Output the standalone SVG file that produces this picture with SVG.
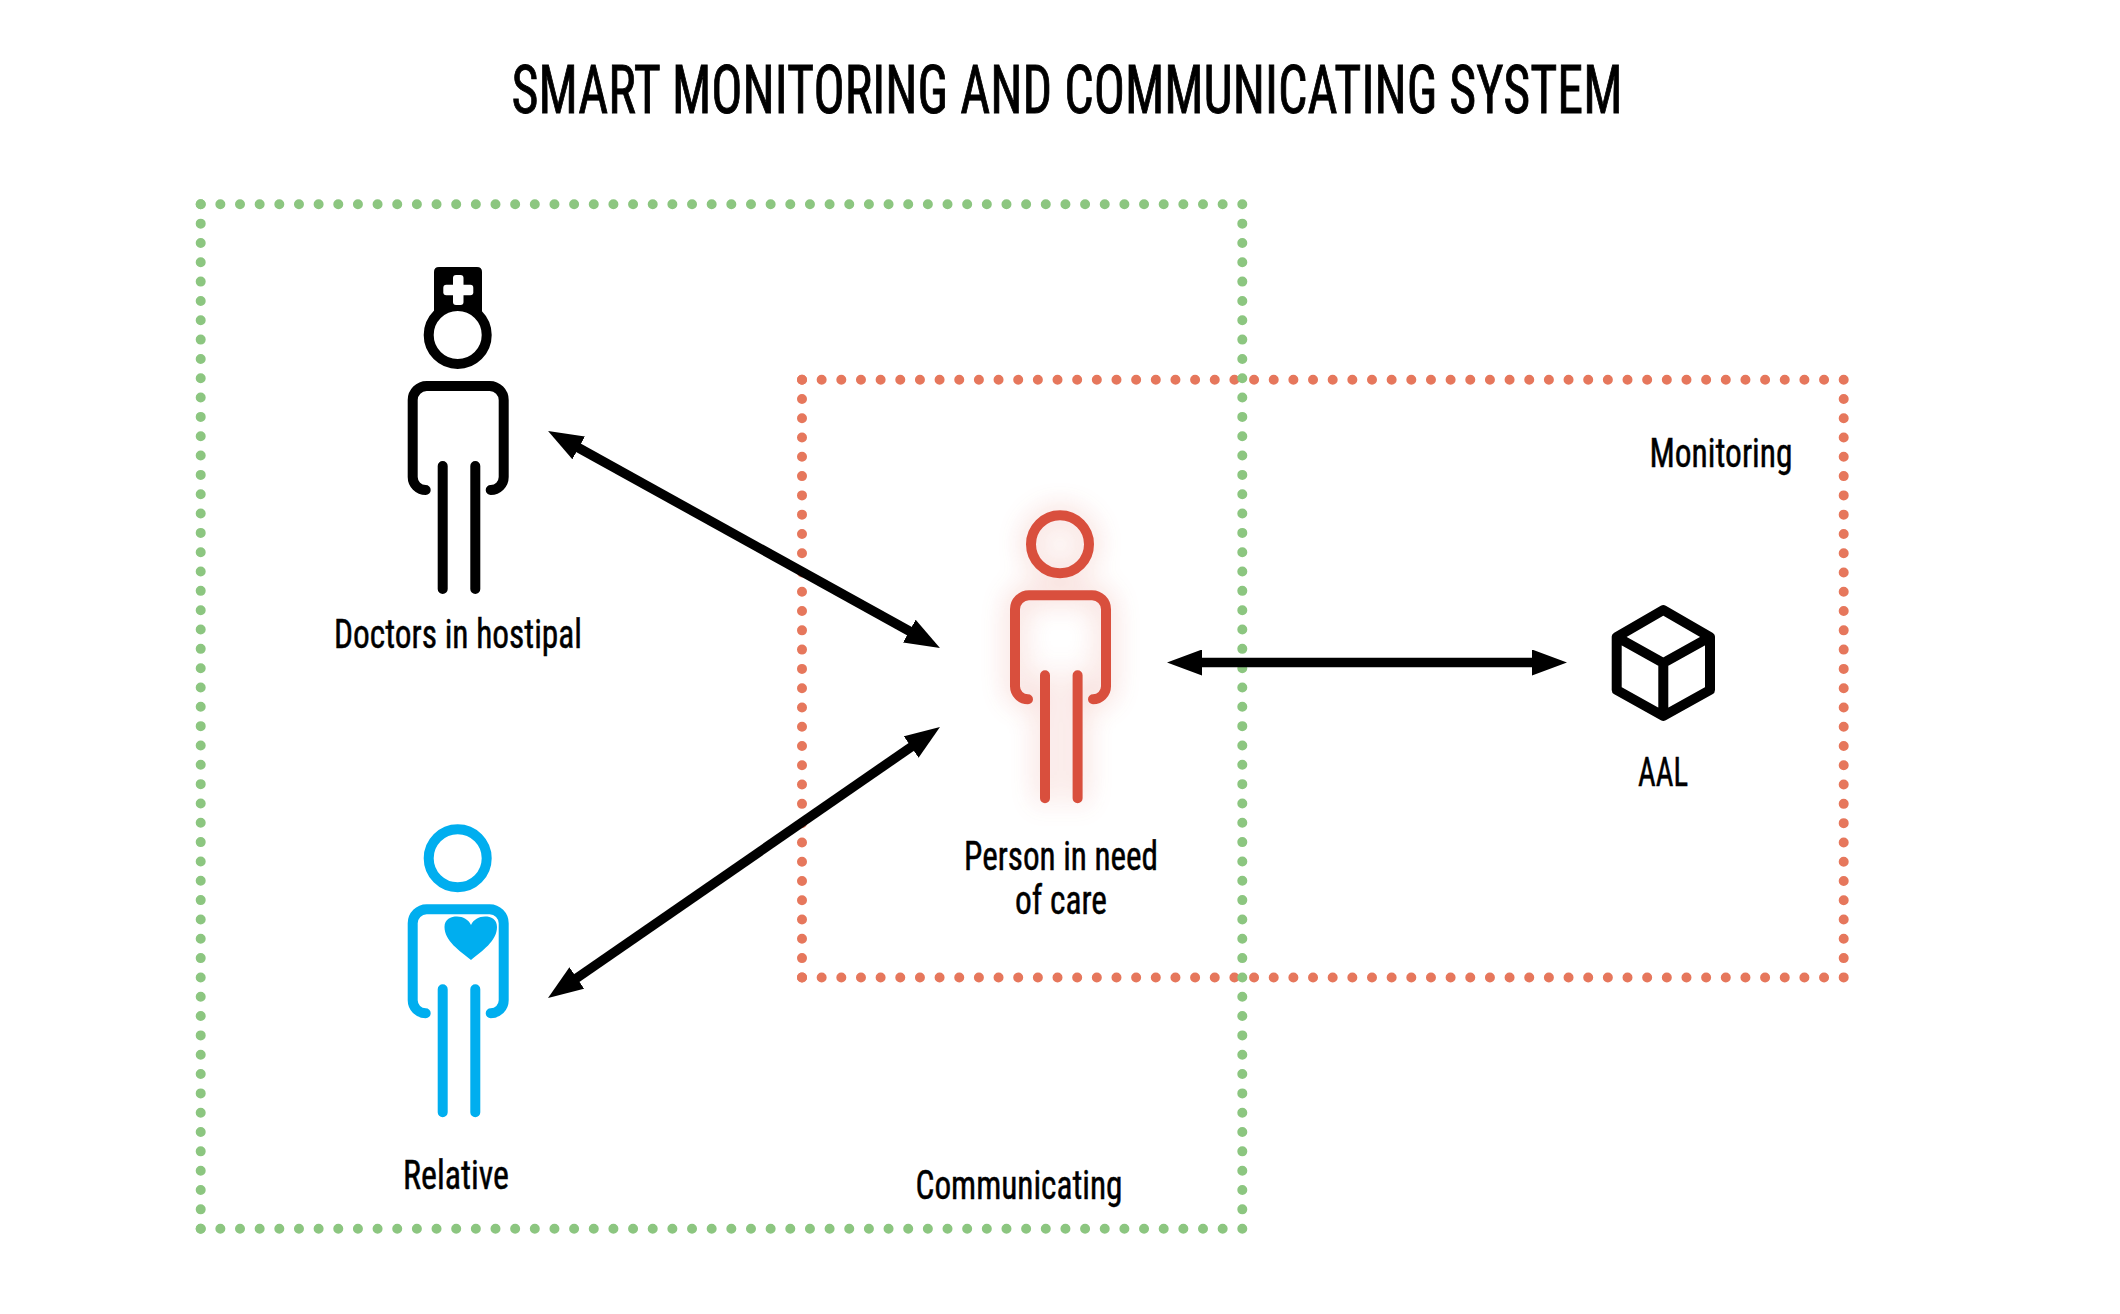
<svg xmlns="http://www.w3.org/2000/svg" width="2120" height="1314" viewBox="0 0 2120 1314">
<style>
text{font-family:"Liberation Sans Narrow","Roboto Condensed",Roboto,"Liberation Sans",sans-serif;fill:#000;stroke:#000;text-anchor:middle}
.lb{font-size:41px;stroke-width:.5}
.ti{font-size:66px;stroke-width:.9}
.zone{fill:none;stroke-width:10;stroke-linecap:round}
.gh{stroke:#8cc680;stroke-dasharray:0 19.653}
.gv{stroke:#8cc680;stroke-dasharray:0 19.328}
.rh{stroke:#e6775c;stroke-dasharray:0 19.655}
.rv{stroke:#e6775c;stroke-dasharray:0 19.28}
.fig{fill:none;stroke-width:10;stroke-linecap:round;stroke-linejoin:round}
.ar{fill:none;stroke:#000;stroke-width:9.500;marker-start:url(#h);marker-end:url(#h)}
</style>
<defs>
<marker id="h" viewBox="0 0 35 26" refX="5" refY="13" markerWidth="35" markerHeight="26" markerUnits="userSpaceOnUse" orient="auto-start-reverse"><path d="M0 0L35 13L0 26Z" fill="#000"/></marker>
<filter id="glow" x="-60%" y="-30%" width="220%" height="160%"><feGaussianBlur stdDeviation="14"/></filter>
<g id="man">
<circle cx="0" cy="0" r="29"/>
<path d="M-32 155H-32A13 13 0 0 1 -45 142V65A14 14 0 0 1 -31 51H32A14 14 0 0 1 46 65V142A13 13 0 0 1 33 155"/>
<path d="M-15 131V254M17.600 131V254"/>
</g>
</defs>
<rect width="2120" height="1314" fill="#fff"/>
<g id="zones">
<g id="zone-monitoring">
<path class="zone rh" d="M802 379.700H1843.700"/>
<path class="zone rh" d="M802 977.500H1843.700"/>
<path class="zone rv" d="M802 379.700V977.500"/>
<path class="zone rv" d="M1843.700 379.700V977.500"/>
</g>
<g id="zone-communicating">
<path class="zone gh" d="M200.700 204.300H1242.300"/>
<path class="zone gh" d="M200.700 1228.700H1242.300"/>
<path class="zone gv" d="M200.700 204.300V1228.700"/>
<path class="zone gv" d="M1242.300 204.300V1228.700"/>
</g>
</g>
<g id="title"><text class="ti" x="1067" y="113" textLength="1111" lengthAdjust="spacingAndGlyphs">SMART MONITORING AND COMMUNICATING SYSTEM</text></g>
<g id="connectors">
<line class="ar" x1="574.300" y1="445.500" x2="913.700" y2="633.500"/>
<line class="ar" x1="572.700" y1="980.900" x2="915.300" y2="744.100"/>
<line class="ar" x1="1197" y1="662.500" x2="1537" y2="662.500"/>
</g>
<g id="node-doctor">
<path d="M434 315V272Q434 267 439 267H477Q482 267 482 272V315Z" fill="#000"/>
<circle cx="457.700" cy="335" r="29" fill="#fff"/>
<use href="#man" transform="translate(457.700,335)" class="fig" stroke="#000"/>
<rect x="443.300" y="284.800" width="30" height="10.500" rx="3" fill="#fff"/>
<rect x="453" y="275" width="10.500" height="30" rx="3" fill="#fff"/>
<text class="lb" x="458" y="648" textLength="248" lengthAdjust="spacingAndGlyphs">Doctors in hostipal</text>
</g>
<g id="node-relative">
<use href="#man" transform="translate(457.700,858.300)" class="fig" stroke="#00aeef"/>
<path d="M471 960C460 951 444.500 941 444.500 927C444.500 919 451 916.500 457 916.500C463 916.500 468.500 919.500 471 925C473.500 919.500 479 916.500 485 916.500C491 916.500 497 919 497 927C497 941 482 951 471 960Z" fill="#00aeef"/>
<text class="lb" x="456" y="1189" textLength="106" lengthAdjust="spacingAndGlyphs">Relative</text>
</g>
<g id="node-person">
<use href="#man" transform="translate(1060,544.300)" class="fig" stroke="#d94f3d" opacity=".35" filter="url(#glow)"/>
<use href="#man" transform="translate(1060,544.300)" class="fig" stroke="#d94f3d"/>
<text class="lb" x="1061" y="870" textLength="194" lengthAdjust="spacingAndGlyphs">Person in need</text>
<text class="lb" x="1061" y="914" textLength="92" lengthAdjust="spacingAndGlyphs">of care</text>
</g>
<g id="node-aal">
<path class="fig" stroke="#000" d="M1663.300 610L1710 637V690L1663.300 716L1616.700 690V637ZM1616.700 637L1663.300 663L1710 637M1663.300 663V716"/>
<text class="lb" x="1663" y="786" textLength="50" lengthAdjust="spacingAndGlyphs">AAL</text>
</g>
<g id="label-monitoring"><text class="lb" x="1721" y="467" textLength="143" lengthAdjust="spacingAndGlyphs">Monitoring</text></g>
<g id="label-communicating"><text class="lb" x="1019" y="1199" textLength="207" lengthAdjust="spacingAndGlyphs">Communicating</text></g>
</svg>
